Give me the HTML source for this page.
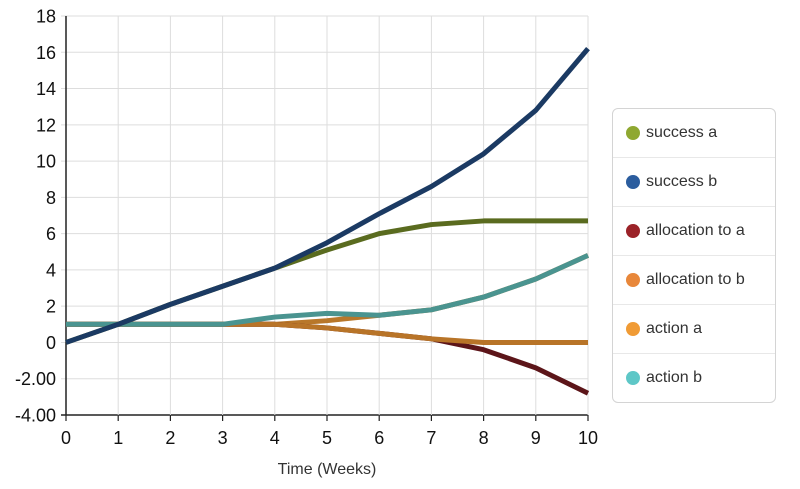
<!DOCTYPE html>
<html><head><meta charset="utf-8"><style>
body{margin:0;background:#fff;width:800px;height:489px;overflow:hidden;font-family:"Liberation Sans",sans-serif}
.leg{position:absolute;left:612px;top:108px;width:162px;height:293px;border:1px solid #d4d4d4;border-radius:6px;background:#fff}
.row{height:48px;border-bottom:1px solid #e8e8e8;display:flex;align-items:center;padding-left:13px;font-size:16px;color:#333}
.row:last-child{border-bottom:none}
.dot{width:14px;height:14px;border-radius:50%;margin-right:6px}
</style></head><body>
<svg id="c" width="800" height="489" style="position:absolute;left:0;top:0"></svg>
<div class="leg">
<div class="row"><span class="dot" style="background:#8fa831"></span>success a</div>
<div class="row"><span class="dot" style="background:#2b5d9e"></span>success b</div>
<div class="row"><span class="dot" style="background:#9b2228"></span>allocation to a</div>
<div class="row"><span class="dot" style="background:#e8873a"></span>allocation to b</div>
<div class="row"><span class="dot" style="background:#f09b35"></span>action a</div>
<div class="row"><span class="dot" style="background:#5ec7c7"></span>action b</div>
</div>
<script>
const weeks=[0,1,2,3,4,5,6,7,8,9,10];
const yTicks=[18,16,14,12,10,8,6,4,2,0,-2,-4];
const yTickLabels=["18","16","14","12","10","8","6","4","2","0","-2.00","-4.00"];
const successA=[0,1,2.1,3.1,4.1,5.1,6.0,6.5,6.7,6.7,6.7];
const successB=[0,1,2.1,3.1,4.1,5.5,7.1,8.6,10.4,12.8,16.2];
const allocA=[1,1,1,1,1,0.8,0.5,0.2,-0.4,-1.4,-2.8];
const allocB=[1,1,1,1,1,0.8,0.5,0.2,0,0,0];
const actionA=[1,1,1,1,1,1.2,1.5,1.8,2.5,3.5,4.8];
const actionB=[1,1,1,1,1.4,1.6,1.5,1.8,2.5,3.5,4.8];
const svg=document.getElementById('c');const NS='http://www.w3.org/2000/svg';
const X=v=>66+v*52.2, Y=v=>16+(18-v)*18.136;
function mk(t,a,txt){const e=document.createElementNS(NS,t);for(const k in a)e.setAttribute(k,a[k]);if(txt!=null)e.textContent=txt;svg.appendChild(e);return e;}
yTicks.forEach((v,i)=>{
const g=mk('line',{x1:61,x2:588,y1:Y(v),y2:Y(v),stroke:v===-4?'#222':'#ddd','stroke-width':v===-4?1.5:1});


const t=mk('text',{x:56,y:Y(v)+6.5,'text-anchor':'end','font-size':18,fill:'#111'},yTickLabels[i]);


});
weeks.forEach(v=>{
const g=mk('line',{x1:X(v),x2:X(v),y1:16,y2:420,stroke:'#ddd','stroke-width':1});


mk('line',{x1:X(v),x2:X(v),y1:415,y2:421,stroke:'#222','stroke-width':1.2});
const t=mk('text',{x:X(v),y:444,'text-anchor':'middle','font-size':18,fill:'#111'},String(v));


});
const ax=mk('line',{x1:66,x2:66,y1:16,y2:415,stroke:'#222','stroke-width':1.5});


const xt=mk('text',{x:327,y:474,'text-anchor':'middle','font-size':16,fill:'#333'},'Time (Weeks)');


const series=[[actionA,'#b8772a','action-a'],[allocA,'#5c1519','allocation-to-a'],[allocB,'#b87428','allocation-to-b'],[actionB,'#4a9490','action-b'],[successA,'#5a6b1f','success-a'],[successB,'#1b3a63','success-b']];
series.forEach(([d,c,n])=>{
const p=mk('polyline',{points:d.map((v,i)=>X(weeks[i])+','+Y(v)).join(' '),fill:'none',stroke:c,'stroke-width':5,'stroke-linejoin':'round'});


});
</script>
</body></html>
